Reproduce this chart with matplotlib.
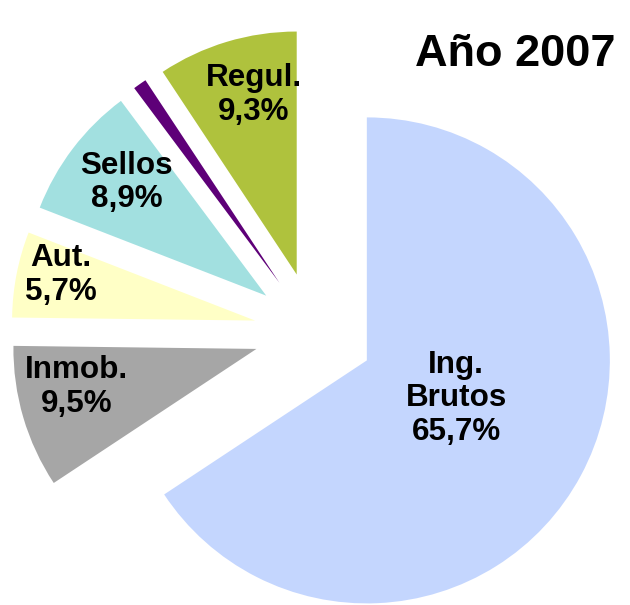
import matplotlib
matplotlib.use('Agg')
import matplotlib.pyplot as plt
import numpy as np

categories=['Ing.\nBrutos','Inmob.','Aut.','Sellos','Otros','Regul.']
values=[65.7,9.5,5.7,8.9,0.9,9.3]
pct_labels=['65,7%','9,5%','5,7%','8,9%','','9,3%']
colors=['#C4D6FE','#A6A6A6','#FFFFC6','#A2E0E0','#5E0078','#AFC23D']
# where the label sits inside each wedge: fraction of radius, angle shift (deg)
label_pos=[0.40,0.757,0.82,0.74,0.0,0.76]
label_shift=[5.2,-4.5,-2.3,-1.7,0.0,-3.3]

plt.rcParams['font.family']=['Liberation Sans','DejaVu Sans']

fig=plt.figure(figsize=(6.3,6.05),dpi=100)
ax=fig.add_axes([0,0,1,1])

r=243
wedges,_=ax.pie(values,colors=colors,startangle=90,counterclock=False,
                radius=r,center=(314,273),explode=[60]*len(values),
                wedgeprops={'linewidth':0},frame=True)
ax.set_xlim(0,630)
ax.set_ylim(0,605)
ax.set_aspect('equal')
ax.axis('off')

for w,cat,pct,f,sh in zip(wedges,categories,pct_labels,label_pos,label_shift):
    if not pct:
        continue
    th=np.radians((w.theta1+w.theta2)/2.+sh)
    cx,cy=w.center
    ax.text(cx+f*r*np.cos(th),cy+f*r*np.sin(th),cat+'\n'+pct,
            ha='center',va='center',fontsize=22.6,fontweight='bold',
            linespacing=1.15)

ax.text(515,550,'Año 2007',ha='center',va='center',fontsize=32.5,fontweight='bold')

fig.savefig('out.png',dpi=100)
